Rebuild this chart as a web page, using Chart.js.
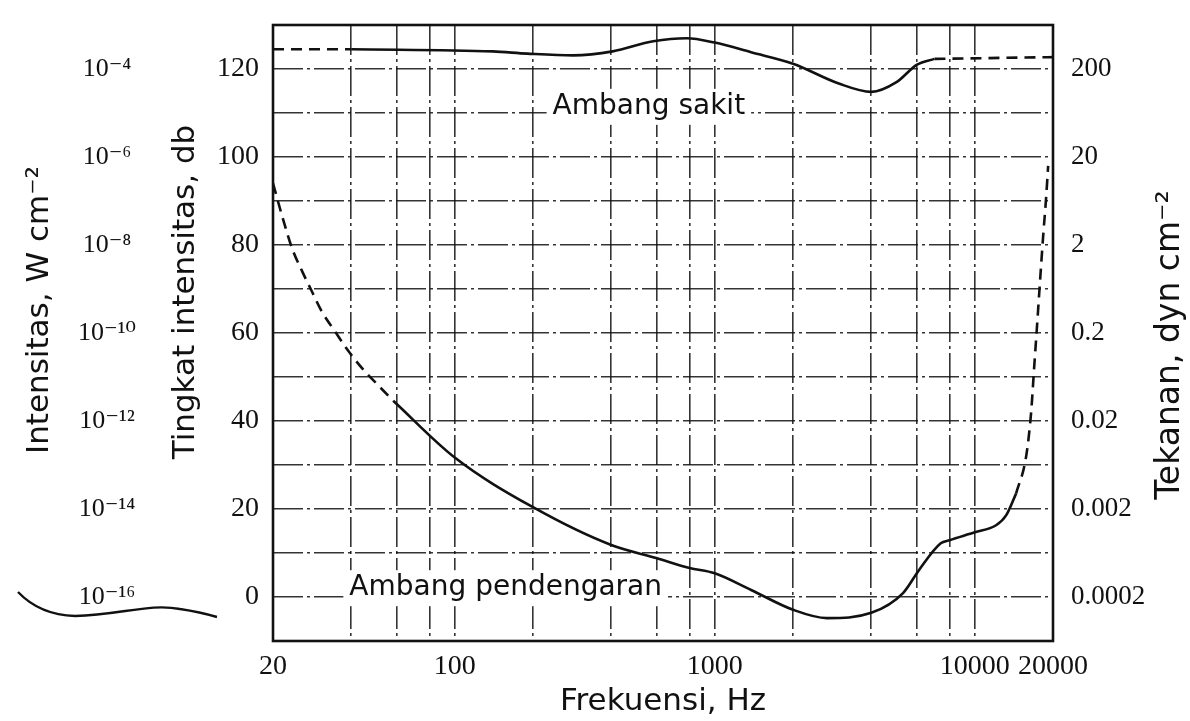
<!DOCTYPE html>
<html><head><meta charset="utf-8">
<script src="https://cdn.jsdelivr.net/npm/chart.js@4.4.0/dist/chart.umd.min.js"></script>
<style>html,body{margin:0;padding:0;background:#fff}#wrap{width:1190px;height:721px;position:relative}</style>
</head><body><div id="wrap"><canvas id="c"></canvas></div>
<script>
// ---- data ----
const freqTicks = [20,40,60,80,100,200,400,600,800,1000,2000,4000,6000,8000,10000,20000];
const freqTickLabels = {20:'20',100:'100',1000:'1000',10000:'10000',20000:'20000'};
const dbGrid = [-10,0,10,20,30,40,50,60,70,80,90,100,110,120,130];
const dbTicks = [0,20,40,60,80,100,120];
const dbTickLabels = ['0','20','40','60','80','100','120'];
const intensityLabels = ['10⁻¹⁶','10⁻¹⁴','10⁻¹²','10⁻¹⁰','10⁻⁸','10⁻⁶','10⁻⁴'];
const pressureLabels = ['0.0002','0.002','0.02','0.2','2','20','200'];

// Ambang sakit (threshold of pain)
const painFreqDashL = [20, 40];
const painValDashL  = [124.5, 124.5];
const painFreq = [40, 140, 190, 285, 405, 580, 780, 1000, 1380, 2000, 3000, 4000, 5000, 6000, 7000];
const painVal  = [124.5, 124, 123.5, 123.1, 124, 126.3, 127, 126, 123.8, 121.2, 116.7, 114.8, 117, 121, 122.3];
const painFreqDashR = [7000, 20000];
const painValDashR  = [122.3, 122.7];

// Ambang pendengaran (threshold of hearing)
const hearFreqDashL = [20, 22, 23.7, 25.9, 28.2, 30.8, 34.6, 39, 44, 51, 58];
const hearValDashL  = [94, 85.3, 79.2, 74, 69.5, 64.9, 60.4, 55.9, 52, 48, 44.6];
const hearFreq = [58, 100, 200, 400, 600, 800, 1000, 1380, 2000, 2700, 4000, 5300, 6100, 7400, 8000, 10000, 12080, 13220, 14420];
const hearVal  = [44.6, 31.7, 20.4, 11.8, 8.8, 6.6, 5.4, 1.6, -2.9, -4.8, -3.6, 0.9, 6.1, 12.2, 12.9, 14.7, 16.3, 18.6, 23.5];
const hearFreqDashR = [14420, 15770, 16480, 16920, 17380, 17840, 18330, 18830, 19160];
const hearValDashR  = [23.5, 32, 42, 52, 62, 72, 82, 91, 98];

// annotation texts
const noteTexts = ['Ambang sakit', 'Ambang pendengaran'];
const noteFreq = [558, 157];
const noteDb = [111.4, 2.0];

// axis titles
const titleX = 'Frekuensi, Hz';
const titleDb = 'Tingkat intensitas, db';
const titleInt = 'Intensitas, W cm⁻²';
const titleP = 'Tekanan, dyn cm⁻²';

// ---- build ----
const pts = (xs, ys) => xs.map((x, i) => ({x, y: ys[i]}));
const lineDs = (xs, ys, dashed) => ({
  data: pts(xs, ys), borderColor: '#111', borderWidth: 2.6, pointRadius: 0,
  borderDash: dashed ? [11, 7] : [], cubicInterpolationMode: 'monotone', fill: false,
  xAxisID: 'x', yAxisID: 'y'
});

const serif = '"Liberation Serif", "DejaVu Serif", serif';
const sans = '"DejaVu Sans", "Open Sans", sans-serif';

const deco = {
  id: 'deco',
  afterDatasetsDraw(chart) {
    const {ctx, chartArea: a, scales} = chart;
    ctx.save();
    ctx.font = '28px ' + sans;
    ctx.textAlign = 'center';
    ctx.textBaseline = 'middle';
    noteTexts.forEach((t, i) => {
      const px = scales.x.getPixelForValue(noteFreq[i]);
      const py = scales.y.getPixelForValue(noteDb[i]);
      const w = ctx.measureText(t).width;
      ctx.fillStyle = '#fff';
      ctx.fillRect(px - w / 2 - 6, py - 18, w + 12, 36);
      ctx.fillStyle = '#111';
      ctx.fillText(t, px, py);
    });
    ctx.strokeStyle = '#111';
    ctx.lineWidth = 2.6;
    ctx.strokeRect(a.left, a.top, a.right - a.left, a.bottom - a.top);
    ctx.restore();
  },
  afterDraw(chart) {
    const {ctx, chartArea: a, scales} = chart;
    const mid = (a.top + a.bottom) / 2;
    const vTitle = (text, x, y, size) => {
      ctx.save();
      ctx.font = size + 'px ' + sans;
      ctx.fillStyle = '#111';
      ctx.textAlign = 'center';
      ctx.textBaseline = 'middle';
      ctx.translate(x, y);
      ctx.rotate(-Math.PI / 2);
      ctx.fillText(text, 0, 0);
      ctx.restore();
    };
    vTitle(titleInt, scales.yInt.left + 40, mid - 23, 31);
    vTitle(titleDb, scales.y.left + 16, mid - 41, 31);
    vTitle(titleP, scales.yP.right - 20, mid + 12, 33);
    // hand-drawn stroke near the lowest intensity label
    const s = scales.yInt;
    const y0 = s.getPixelForValue(0);
    const x0 = s.left;
    ctx.save();
    ctx.strokeStyle = '#111';
    ctx.lineWidth = 2.4;
    ctx.beginPath();
    ctx.moveTo(x0 + 18, y0 - 5);
    ctx.quadraticCurveTo(x0 + 40, y0 + 18, x0 + 75, y0 + 19);
    ctx.bezierCurveTo(x0 + 120, y0 + 18, x0 + 150, y0 + 6, x0 + 180, y0 + 12);
    ctx.quadraticCurveTo(x0 + 200, y0 + 15, x0 + 217, y0 + 20);
    ctx.stroke();
    ctx.restore();
  }
};

const gridStyle = {color: 'rgba(17,17,17,0.85)', lineWidth: 1.6, drawTicks: false};
const gridDash = [30, 4, 3, 4];
const fixSize = (prop, val) => (sc) => {
  sc[prop] = val;
  sc.paddingTop = 0; sc.paddingBottom = 0; sc.paddingLeft = 0; sc.paddingRight = 0;
};

new Chart(document.getElementById('c'), {
  type: 'line',
  data: {
    datasets: [
      lineDs(painFreqDashL, painValDashL, true),
      lineDs(painFreq, painVal, false),
      lineDs(painFreqDashR, painValDashR, true),
      lineDs(hearFreqDashL, hearValDashL, true),
      lineDs(hearFreq, hearVal, false),
      lineDs(hearFreqDashR, hearValDashR, true)
    ]
  },
  options: {
    responsive: true, maintainAspectRatio: false, animation: false,
    layout: {padding: {top: 25, left: 0, right: 0, bottom: 0}},
    plugins: {legend: {display: false}, tooltip: {enabled: false}},
    scales: {
      x: {
        type: 'logarithmic', position: 'bottom', min: 20, max: 20000,
        afterBuildTicks: (sc) => { sc.ticks = freqTicks.map(v => ({value: v})); },
        afterFit: fixSize('height', 80),
        ticks: {autoSkip: false, maxRotation: 0, padding: 9, color: '#111',
          font: {family: serif, size: 28},
          callback: (v) => freqTickLabels[v] || ''},
        grid: gridStyle,
        border: {display: false, dash: gridDash},
        title: {display: true, text: titleX, color: '#111',
          font: {family: sans, size: 31}, padding: {top: 0, bottom: 0}}
      },
      y: {
        type: 'linear', position: 'left', min: -10, max: 130, weight: 1,
        afterBuildTicks: (sc) => { sc.ticks = dbGrid.map(v => ({value: v})); },
        afterFit: fixSize('width', 103),
        ticks: {autoSkip: false, padding: 14, color: '#111',
          font: {family: serif, size: 28},
          callback: (v) => { const i = dbTicks.indexOf(v); return i >= 0 ? dbTickLabels[i] : ''; }},
        grid: gridStyle,
        border: {display: false, dash: gridDash},
        title: {display: false, text: titleDb}
      },
      yInt: {
        type: 'linear', position: 'left', min: -10, max: 130, weight: 2,
        afterBuildTicks: (sc) => { sc.ticks = dbTicks.map(v => ({value: v})); },
        afterFit: fixSize('width', 170),
        ticks: {autoSkip: false, padding: 26, crossAlign: 'center', color: '#111',
          font: {family: serif, size: 26},
          callback: (v) => { const i = dbTicks.indexOf(v); return i >= 0 ? intensityLabels[i] : ''; }},
        grid: {display: false},
        border: {display: false},
        title: {display: false, text: titleInt}
      },
      yP: {
        type: 'linear', position: 'right', min: -10, max: 130,
        afterBuildTicks: (sc) => { sc.ticks = dbTicks.map(v => ({value: v})); },
        afterFit: fixSize('width', 137),
        ticks: {autoSkip: false, padding: 10, color: '#111',
          font: {family: serif, size: 27},
          callback: (v) => { const i = dbTicks.indexOf(v); return i >= 0 ? pressureLabels[i] : ''; }},
        grid: {display: false},
        border: {display: false},
        title: {display: false, text: titleP}
      }
    }
  },
  plugins: [deco]
});
</script>
</body></html>
